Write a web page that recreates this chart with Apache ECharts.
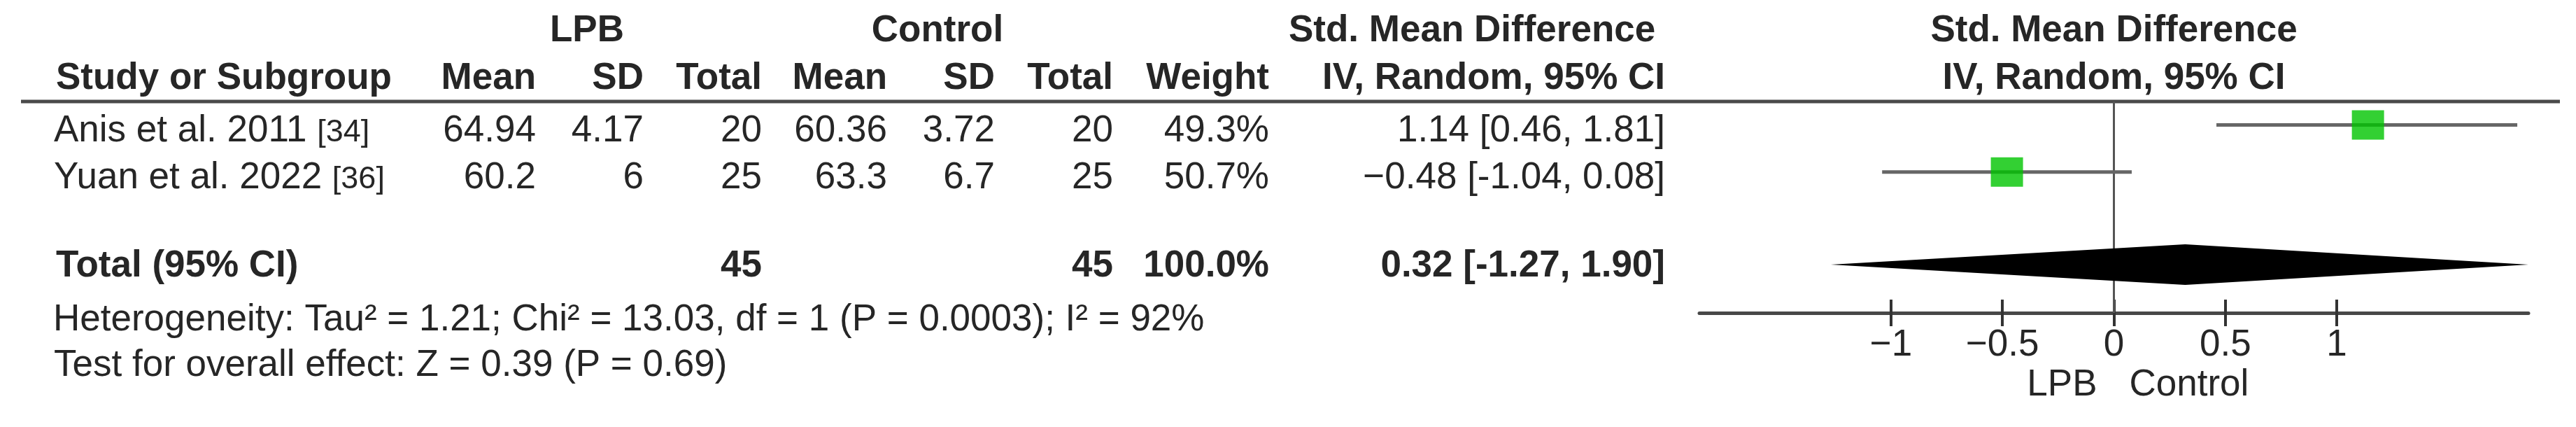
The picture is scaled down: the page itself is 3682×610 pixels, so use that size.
<!DOCTYPE html>
<html><head><meta charset="utf-8">
<script src="https://cdn.jsdelivr.net/npm/echarts@6/dist/echarts.min.js"></script>
<style>html,body{margin:0;padding:0;background:#fff}#c{width:3682px;height:610px}</style>
</head><body><div id="c"></div>
<script>
// ---------- data ----------
const studies = ['Anis et al. 2011', 'Yuan et al. 2022'];
const refs = ['[34]', '[36]'];
const lpbMean = [64.94, 60.2];
const lpbSD = [4.17, 6];
const lpbTotal = [20, 25];
const ctrlMean = [60.36, 63.3];
const ctrlSD = [3.72, 6.7];
const ctrlTotal = [20, 25];
const weights = [49.3, 50.7];
const smd = [1.14, -0.48];
const ciLow = [0.46, -1.04];
const ciHigh = [1.81, 0.08];
const totalLabel = 'Total (95% CI)';
const totalLPB = 45;
const totalCtrl = 45;
const totalWeight = 100.0;
const pooled = [0.32, -1.27, 1.90]; // estimate, low, high
const heterogeneity = 'Heterogeneity: Tau\u00B2 = 1.21; Chi\u00B2 = 13.03, df = 1 (P = 0.0003); I\u00B2 = 92%';
const overallTest = 'Test for overall effect: Z = 0.39 (P = 0.69)';
const tickValues = [-1, -0.5, 0, 0.5, 1];
const groupHeaders = ['LPB', 'Control'];
const colHeaders = ['Mean', 'SD', 'Total', 'Mean', 'SD', 'Total', 'Weight'];
const favourLabels = ['LPB', 'Control'];
const effectHeader = ['Std. Mean Difference', 'IV, Random, 95% CI'];

// ---------- layout ----------
const FONT = '"Liberation Sans", Arial, sans-serif';
const FS = 53;
const TXT = '#262626';
const GRID = {left: 2429, top: 145, width: 1185, height: 302};
const xMin = -1.86, xMax = 1.86;
const colRight = [766, 920, 1089, 1268, 1422, 1591, 1814];
const smdRight = 2380;
const studyLeft = 77;
const headY = [44, 112];
const rowTextY = [187, 254];
const totalTextY = 380;
const hetY = [457, 522];
const favY = 550;
const rows = studies.map((_, i) => i);
const totalRow = 3;

const minus = s => s.replace(/^-/, '\u2212');
const fmtSmd = (e, l, h) => minus(e.toFixed(2)) + ' [' + l.toFixed(2) + ', ' + h.toFixed(2) + ']';
const fmtTick = v => (v < 0 ? '\u2212' + Math.abs(v) : String(v));

const chart = echarts.init(document.getElementById('c'), null, {renderer: 'canvas'});

const option = {
  animation: false,
  backgroundColor: '#ffffff',
  grid: Object.assign({containLabel: false}, GRID),
  xAxis: [
    {
      type: 'value', min: xMin, max: xMax, position: 'bottom',
      axisLine: {show: true, onZero: false, lineStyle: {color: '#474747', width: 5}},
      axisTick: {show: true, customValues: tickValues, length: 19, lineStyle: {color: '#333', width: 4}},
      axisLabel: {show: true, customValues: tickValues, margin: 20, formatter: fmtTick,
        color: TXT, fontSize: FS, fontFamily: FONT},
      splitLine: {show: false}
    },
    {
      type: 'value', min: xMin, max: xMax, position: 'bottom',
      axisLine: {show: false, onZero: false},
      axisTick: {show: true, inside: true, customValues: tickValues, length: 19, lineStyle: {color: '#333', width: 4}},
      axisLabel: {show: false},
      splitLine: {show: false}
    }
  ],
  yAxis: {type: 'value', min: -0.5, max: 4, inverse: true, show: false},
  series: [
    {
      type: 'line', silent: true, z: 1, symbol: 'none',
      data: [[0, -0.5], [0, 4]],
      lineStyle: {color: '#555', width: 3}
    },
    {
      type: 'custom', silent: true, z: 2,
      data: [[pooled[0], pooled[1], pooled[2], totalRow]],
      encode: {x: [0, 1, 2], y: 3},
      renderItem: (params, api) => {
        const row = api.value(3);
        const c = api.coord([api.value(0), row]);
        const l = api.coord([api.value(1), row]);
        const r = api.coord([api.value(2), row]);
        const h = 29;
        let pts = [[l[0], c[1] - 2], [c[0], c[1] - 2 - h], [r[0], c[1] - 2], [c[0], c[1] - 2 + h]];
        const cs = params.coordSys;
        pts = echarts.graphic.clipPointsByRect(pts, {x: cs.x, y: cs.y, width: cs.width, height: cs.height});
        return {type: 'polygon', shape: {points: pts}, style: {fill: '#000'}};
      }
    },
    {
      type: 'custom', silent: true, z: 3,
      data: rows.map(i => [ciLow[i], ciHigh[i], i]),
      encode: {x: [0, 1], y: 2},
      renderItem: (params, api) => {
        const p1 = api.coord([api.value(0), api.value(2)]);
        const p2 = api.coord([api.value(1), api.value(2)]);
        return {type: 'line', shape: {x1: p1[0], y1: p1[1], x2: p2[0], y2: p2[1]},
          style: {stroke: '#666', lineWidth: 5}};
      }
    },
    {
      type: 'scatter', silent: true, z: 4,
      data: rows.map(i => [smd[i], i]),
      symbol: 'rect', symbolSize: [46, 42],
      itemStyle: {color: '#00c400'}
    }
  ]
};
chart.setOption(option);

// ---------- table text ----------
function txt(s, x, y, align, bold, size) {
  return {
    type: 'text', x: x, y: y, silent: true,
    style: {
      text: s, fill: TXT,
      font: (bold ? 'bold ' : '') + (size || FS) + 'px ' + FONT,
      align: align, textAlign: align, verticalAlign: 'middle', textVerticalAlign: 'middle'
    }
  };
}
const zeroX = chart.convertToPixel({xAxisIndex: 0}, 0);
const g = [];
// header rule
g.push({type: 'line', silent: true, shape: {x1: 30, y1: GRID.top, x2: 3659, y2: GRID.top},
  style: {stroke: '#4a4a4a', lineWidth: 5}});
// group headers
g.push(txt(groupHeaders[0], 839, headY[0], 'center', true));
g.push(txt(groupHeaders[1], 1340, headY[0], 'center', true));
g.push(txt(effectHeader[0], 1842, headY[0], 'left', true));
g.push(txt(effectHeader[0], zeroX, headY[0], 'center', true));
// column headers
g.push(txt('Study or Subgroup', 80, headY[1], 'left', true));
colHeaders.forEach((h, k) => g.push(txt(h, colRight[k], headY[1], 'right', true)));
g.push(txt(effectHeader[1], smdRight, headY[1], 'right', true));
g.push(txt(effectHeader[1], zeroX, headY[1], 'center', true));
// study rows
rows.forEach(i => {
  const y = rowTextY[i];
  g.push({
    type: 'text', x: studyLeft, y: y, silent: true,
    style: {
      text: '{a|' + studies[i] + '} {r|' + refs[i] + '}',
      fill: TXT, font: FS + 'px ' + FONT,
      align: 'left', textAlign: 'left', verticalAlign: 'middle', textVerticalAlign: 'middle',
      rich: {
        a: {fontSize: FS, fontFamily: FONT, fill: TXT, color: TXT, verticalAlign: 'bottom'},
        r: {fontSize: 45, fontFamily: FONT, fill: TXT, color: TXT, verticalAlign: 'bottom', padding: [0, 0, 1, 0]}
      }
    }
  });
  const vals = [lpbMean[i], lpbSD[i], lpbTotal[i], ctrlMean[i], ctrlSD[i], ctrlTotal[i]].map(String);
  vals.push(weights[i].toFixed(1) + '%');
  vals.forEach((v, k) => g.push(txt(v, colRight[k], y, 'right', false)));
  g.push(txt(fmtSmd(smd[i], ciLow[i], ciHigh[i]), smdRight, y, 'right', false));
});
// total row
g.push(txt(totalLabel, 80, totalTextY, 'left', true));
g.push(txt(String(totalLPB), colRight[2], totalTextY, 'right', true));
g.push(txt(String(totalCtrl), colRight[5], totalTextY, 'right', true));
g.push(txt(totalWeight.toFixed(1) + '%', colRight[6], totalTextY, 'right', true));
g.push(txt(fmtSmd(pooled[0], pooled[1], pooled[2]), smdRight, totalTextY, 'right', true));
// heterogeneity / overall effect
g.push(txt(heterogeneity, 76, hetY[0], 'left', false));
g.push(txt(overallTest, 77, hetY[1], 'left', false));
// favours labels
g.push(txt(favourLabels[0], zeroX - 24, favY, 'right', false));
g.push(txt(favourLabels[1], zeroX + 22, favY, 'left', false));

chart.setOption({graphic: {elements: g}});
</script>
</body></html>
